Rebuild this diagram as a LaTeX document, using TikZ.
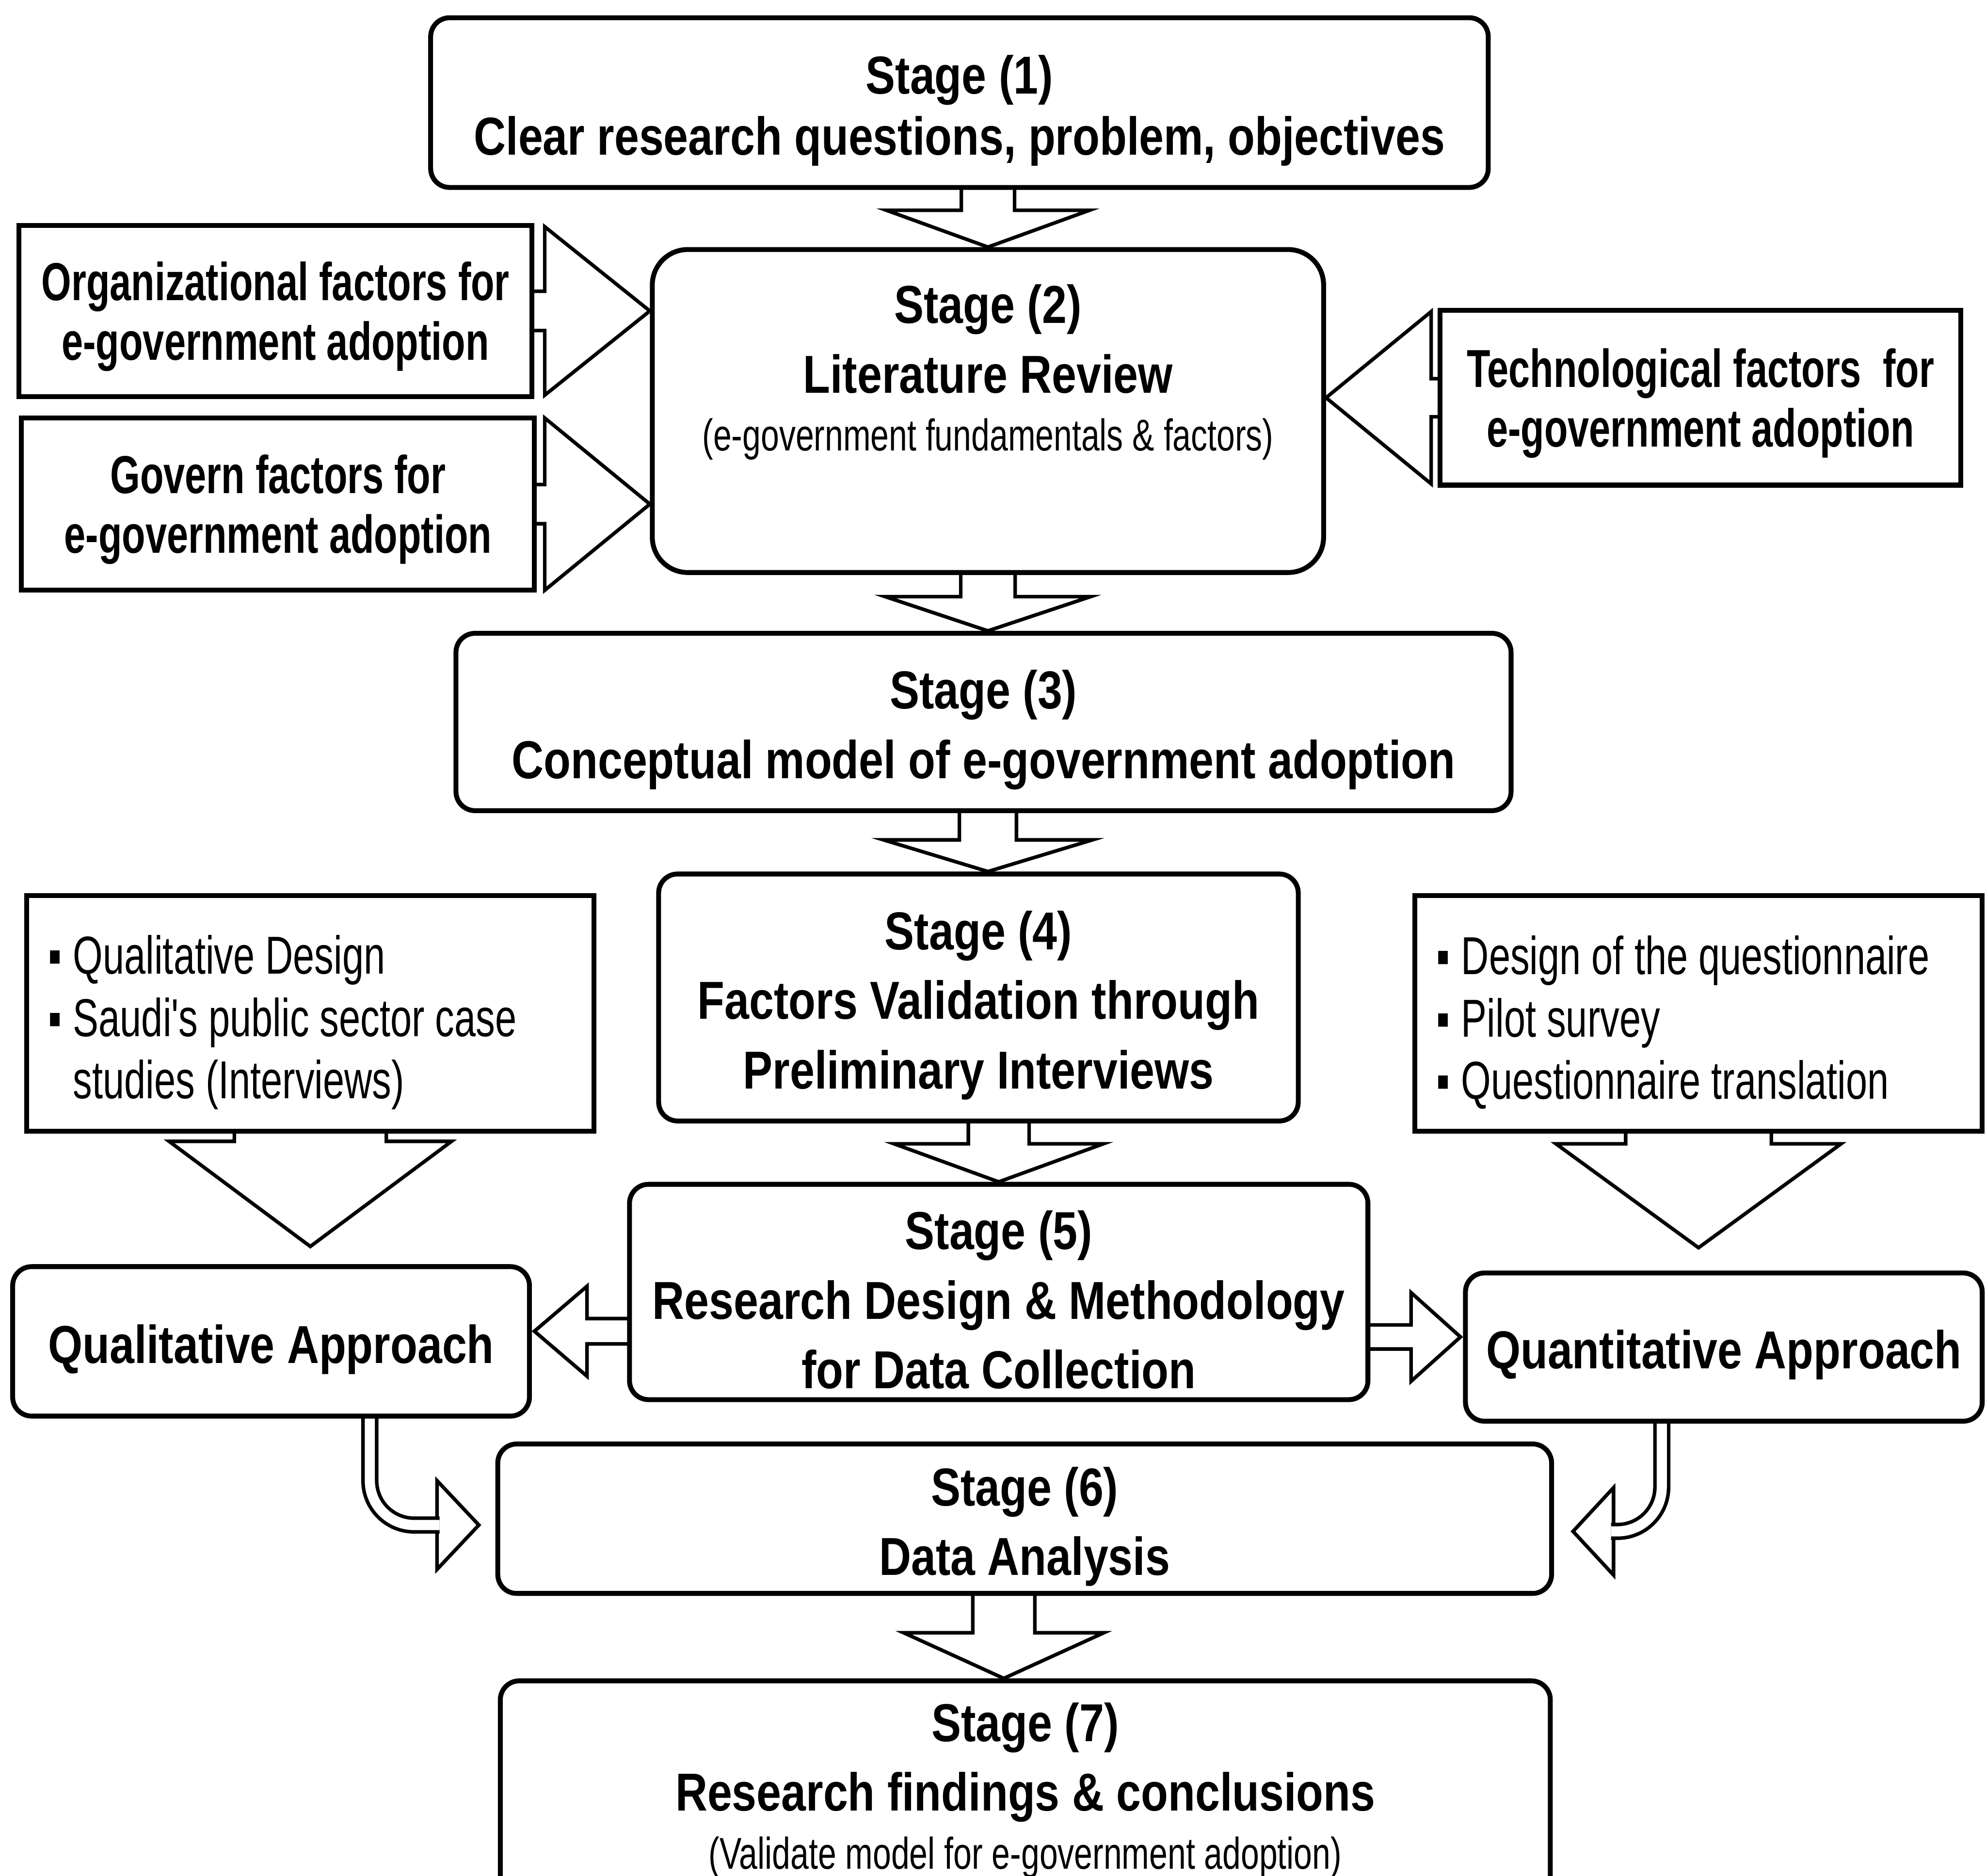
\documentclass[tikz,border=0pt]{standalone}
\usepackage{fontspec}
\setmainfont{Liberation Sans}[FakeStretch=0.83]
\newfontfamily\narrowfont{Liberation Sans}[FakeStretch=0.72]
\newfontfamily\noteface{Liberation Sans}[FakeStretch=0.74]
\newfontfamily\listface{Liberation Sans}[FakeStretch=0.72]
\usetikzlibrary{positioning, calc, backgrounds}

% block arrow pointing down: source node, tip, half shaft, half head, head length
\newcommand{\downblock}[5]{%
  \draw[blockarrow] let \p1=(#1), \p2=(#2) in
    (\x2-#3,\y1) -- (\x2-#3,\y2+#5) -- (\x2-#4,\y2+#5) -- (\p2)
    -- (\x2+#4,\y2+#5) -- (\x2+#3,\y2+#5) -- (\x2+#3,\y1) -- cycle;}
% block arrow sideways: head length > 0 points right, < 0 points left
\newcommand{\sideblock}[5]{%
  \draw[blockarrow] let \p1=(#1), \p2=(#2), \n1={\x2-(#5)} in
    (\x1,\y2+#3) -- (\n1,\y2+#3) -- (\n1,\y2+#4) -- (\p2)
    -- (\n1,\y2-#4) -- (\n1,\y2-#3) -- (\x1,\y2-#3) -- cycle;}
\newcommand{\bul}{▪\hspace{0.09cm}}
\newcommand{\topgap}{\rule{0pt}{0.43cm}}
\newcommand{\sidegap}{\rule{0pt}{0.39cm}}

\begin{document}
\begin{tikzpicture}

% ------------------- styles -------------------
\tikzstyle{stagebox} = [draw, line width=1.1pt, rectangle, rounded corners=0.15cm, fill=white, align=center, inner sep=0pt, font=\fontsize{12pt}{15.6pt}\selectfont\bfseries]
\tikzstyle{factorbox} = [draw, line width=1.1pt, rectangle, fill=white, align=center, inner sep=0pt, minimum width=4.05cm, font=\narrowfont\fontsize{12pt}{13.4pt}\selectfont\bfseries]
\tikzstyle{listbox} = [draw, line width=1.1pt, rectangle, fill=white, align=flush left, inner xsep=0.17cm, text width=4.14cm, minimum height=1.86cm, font=\listface\fontsize{12pt}{14pt}\selectfont, execute at begin node={\rule{0pt}{0.45cm}}]
\tikzstyle{blockarrow} = [draw, line width=0.8pt, fill=white, line join=miter]
\tikzstyle{bentshaft} = [double=white, double distance=0.08cm, line width=0.8pt, rounded corners=0.35cm]

\useasboundingbox (0,0) rectangle (15.68,-14.81);
\clip (0,0) rectangle (15.68,-14.81);

% ------------------- stages -------------------
\node[stagebox, minimum width=8.35cm, minimum height=1.34cm, font=\fontsize{12pt}{13.7pt}\selectfont\bfseries] (s1) at (7.575,-0.81) {\topgap Stage (1)\\Clear research questions, problem, objectives};

\node[stagebox, minimum width=5.30cm, minimum height=2.55cm, rounded corners=0.28cm] (s2) at (7.80,-3.245) {};
\node[below=0.29cm of s2.north, align=center, inner sep=0pt, font=\fontsize{12pt}{15.6pt}\selectfont\bfseries] (s2label) {Stage (2)\\Literature Review\\[-0.09cm]{\noteface\mdseries\fontsize{10pt}{12pt}\selectfont (e-government fundamentals \& factors)}};

\node[stagebox, minimum width=8.33cm, minimum height=1.40cm] (s3) at (7.765,-5.70) {\topgap Stage (3)\\Conceptual model of e-government adoption};

\node[stagebox, minimum width=5.05cm, minimum height=1.95cm] (s4) at (7.725,-7.875) {\topgap Stage (4)\\Factors Validation through\\Preliminary Interviews};

\node[stagebox, minimum width=5.83cm, minimum height=1.70cm] (s5) at (7.885,-10.20) {\topgap Stage (5)\\Research Design \& Methodology\\for Data Collection};

\node[stagebox, minimum width=8.32cm, minimum height=1.18cm] (s6) at (8.09,-11.99) {\topgap Stage (6)\\Data Analysis};

\node[stagebox, minimum width=8.29cm, minimum height=1.73cm] (s7) at (8.095,-14.135) {Stage (7)\\Research findings \& conclusions\\[-0.09cm]{\noteface\mdseries\fontsize{10pt}{12pt}\selectfont (Validate model for e-government adoption)}};

% ------------------- factors -------------------
\node[factorbox, minimum height=1.35cm] (org) at (2.175,-2.455) {\sidegap Organizational factors for\\e-government adoption};
\node[factorbox, minimum height=1.36cm] (gov) at (2.195,-3.98) {\sidegap Govern factors for\\e-government adoption};
\node[factorbox, minimum width=4.11cm, minimum height=1.38cm] (tech) at (13.425,-3.14) {\sidegap Technological factors\ \ for\\e-government adoption};

% ------------------- approaches -------------------
\node[listbox] (qdesign) at (2.45,-8.00) {\bul Qualitative Design\\\bul Saudi's public sector case\\\hphantom{\bul}studies (Interviews)};
\node[listbox] (quest) at (13.41,-8.00) {\bul Design of the questionnaire\\\bul Pilot survey\\\bul Questionnaire translation};

\node[stagebox, minimum width=4.08cm, minimum height=1.18cm] (qual) at (2.14,-10.59) {\topgap Qualitative Approach};
\node[stagebox, minimum width=4.08cm, minimum height=1.17cm] (quant) at (13.61,-10.635) {\topgap Quantitative Approach};

% ------------------- arrow tips -------------------
\coordinate (t12) at (s2.north);
\coordinate (t23) at (s2.south |- s3.north);
\coordinate (t34) at (s2.south |- s4.north);
\coordinate (t45) at (s5.north);
\coordinate (t67) at ($(s7.north)+(-0.17,0)$);
\coordinate (torg) at (s2.west |- org.east);
\coordinate (tgov) at (s2.west |- gov.east);
\coordinate (ttech) at (s2.east |- tech.west);
\coordinate (tqdes) at ($(qdesign.south |- qual.north)+(0,0.14)$);
\coordinate (tquest) at ($(quest.south |- quant.north)+(0,0.18)$);
\coordinate (tqual) at ($(qual.east)+(0.02,0.08)$);
\coordinate (tquant) at ($(quant.west)+(-0.02,0.08)$);
\coordinate (qualtip) at ($(s6.west)+(-0.13,-0.05)$);
\coordinate (quanttip) at ($(s6.east)+(0.15,-0.10)$);

% ------------------- block arrows (behind the boxes) -------------------
\begin{pgfonlayer}{background}
\downblock{s1}{t12}{0.21cm}{0.80cm}{0.29cm}
\downblock{s2}{t23}{0.215cm}{0.81cm}{0.27cm}
\downblock{s3}{t34}{0.225cm}{0.825cm}{0.25cm}
\downblock{s4}{t45}{0.24cm}{0.825cm}{0.30cm}
\downblock{s6}{t67}{0.245cm}{0.79cm}{0.36cm}
\downblock{qdesign}{tqdes}{0.60cm}{1.115cm}{0.83cm}
\downblock{quest}{tquest}{0.575cm}{1.125cm}{0.82cm}

\sideblock{org}{torg}{0.155cm}{0.665cm}{0.83cm}
\sideblock{gov}{tgov}{0.155cm}{0.68cm}{0.83cm}
\sideblock{tech}{ttech}{0.15cm}{0.68cm}{-0.83cm}
\sideblock{s5}{tqual}{0.10cm}{0.355cm}{-0.415cm}
\sideblock{s5}{tquant}{0.095cm}{0.35cm}{0.39cm}

% bent arrows into Stage (6)
\draw[blockarrow] ($(qualtip)+(-0.33,0.35)$) -- (qualtip) -- ($(qualtip)+(-0.33,-0.35)$) -- cycle;
\draw[bentshaft] ($(qual.south)+(0.78,0.3)$) |- ($(qualtip)+(-0.31,0)$);
\draw[blockarrow] ($(quanttip)+(0.32,0.345)$) -- (quanttip) -- ($(quanttip)+(0.32,-0.345)$) -- cycle;
\draw[bentshaft] ($(quant.south)+(-0.49,0.3)$) |- ($(quanttip)+(0.30,0)$);
\end{pgfonlayer}

\end{tikzpicture}
\end{document}
